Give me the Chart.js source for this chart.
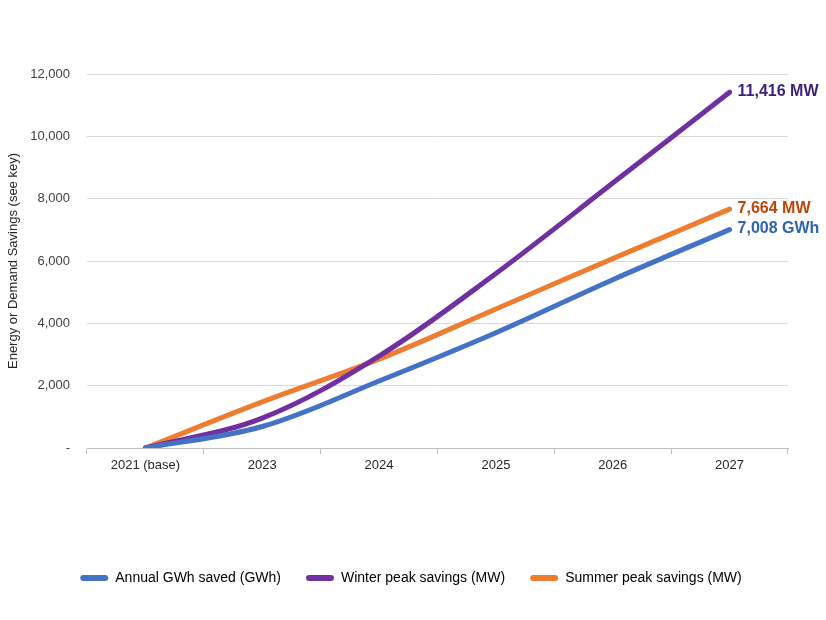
<!DOCTYPE html>
<html>
<head>
    <meta charset="UTF-8">
    <title>Energy or Demand Savings</title>
    <style>
        body {
            margin: 0;
            background: #fff;
        }
        canvas {
            display: block;
        }
    </style>
    <script src="https://cdn.jsdelivr.net/npm/chart.js"></script>
</head>
<body>
    <canvas id="savingsChart" width="826" height="620"></canvas>

    <script>
        const years = ['2021 (base)', '2023', '2024', '2025', '2026', '2027'];
        const annualGwh = [0, 690, 2150, 3700, 5400, 7008];
        const winterMw = [0, 960, 2950, 5600, 8500, 11416];
        const summerMw = [0, 1480, 2850, 4460, 6075, 7664];
        const seriesNames = ['Annual GWh saved (GWh)', 'Winter peak savings (MW)', 'Summer peak savings (MW)'];
        const seriesUnits = ['GWh', 'MW', 'MW'];
        const yTicks = [0, 2000, 4000, 6000, 8000, 10000, 12000];

        const lineColors = ['#4472C4', '#7030A0', '#ED7D31'];
        const labelColors = ['#2E63B0', '#3C1E78', '#C0440E'];

        Chart.defaults.font.family = '"Liberation Sans", Arial, sans-serif';
        Chart.defaults.color = '#404040';

        function makeSet(i, values) {
            return {
                label: seriesNames[i],
                data: values,
                borderColor: lineColors[i],
                backgroundColor: lineColors[i],
                borderWidth: 5,
                borderCapStyle: 'round',
                tension: 0.35,
                pointRadius: 0,
                fill: false,
            };
        }

        // value labels at the end of each line
        const endLabels = {
            id: 'endLabels',
            afterDatasetsDraw(chart) {
                const ctx = chart.ctx;
                ctx.save();
                ctx.font = 'bold 16px "Liberation Sans", Arial, sans-serif';
                ctx.textBaseline = 'middle';
                ctx.textAlign = 'left';
                chart.data.datasets.forEach((ds, i) => {
                    const meta = chart.getDatasetMeta(i);
                    const last = meta.data[meta.data.length - 1];
                    const v = ds.data[ds.data.length - 1];
                    ctx.fillStyle = labelColors[i];
                    ctx.fillText(v.toLocaleString('en-US') + ' ' + seriesUnits[i], last.x + 8, last.y - 1);
                });
                ctx.restore();
            }
        };

        // nudge the legend to where the original sits
        const legendShift = {
            id: 'legendShift',
            afterLayout(chart) {
                chart.legend.left += 16;
                chart.legend.right += 16;
            }
        };

        const ctx = document.getElementById('savingsChart').getContext('2d');
        const chart = new Chart(ctx, {
            type: 'line',
            data: {
                labels: years,
                datasets: [
                    makeSet(0, annualGwh),
                    makeSet(1, winterMw),
                    makeSet(2, summerMw),
                ],
            },
            options: {
                responsive: false,
                animation: false,
                devicePixelRatio: 1,
                layout: {
                    padding: { left: 2, right: 38, top: 74, bottom: 25 },
                },
                plugins: {
                    tooltip: { enabled: false },
                    legend: {
                        position: 'bottom',
                        labels: {
                            boxWidth: 28,
                            boxHeight: 6,
                            padding: 25,
                            color: '#404040',
                            font: { size: 14 },
                            useBorderRadius: true,
                            borderRadius: 3,
                            generateLabels(chart) {
                                return chart.data.datasets.map((ds, i) => ({
                                    text: ds.label,
                                    fillStyle: lineColors[i],
                                    strokeStyle: lineColors[i],
                                    lineWidth: 0,
                                    borderRadius: 3,
                                    datasetIndex: i,
                                }));
                            },
                        },
                    },
                },
                scales: {
                    x: {
                        offset: true,
                        grid: {
                            offset: true,
                            drawOnChartArea: false,
                            tickLength: 6,
                            color: '#bfbfbf',
                        },
                        border: { color: '#bfbfbf' },
                        ticks: {
                            padding: 4,
                            color: '#262626',
                            font: { size: 13 },
                            maxRotation: 0,
                        },
                        afterFit(scale) {
                            scale.height = 98;
                        },
                    },
                    y: {
                        min: 0,
                        max: 12000,
                        afterBuildTicks(scale) {
                            scale.ticks = yTicks.map(v => ({ value: v }));
                        },
                        grid: {
                            drawTicks: false,
                            color: '#d9d9d9',
                        },
                        border: { display: false },
                        ticks: {
                            padding: 17,
                            color: '#404040',
                            font: { size: 13 },
                            callback: v => v === 0 ? '-' : v.toLocaleString('en-US'),
                        },
                        title: {
                            display: true,
                            text: 'Energy or Demand Savings (see key)',
                            color: '#262626',
                            font: { size: 13 },
                        },
                        afterFit(scale) {
                            scale.width = 85;
                        },
                    },
                },
            },
            plugins: [endLabels, legendShift],
        });
    </script>
</body>
</html>
